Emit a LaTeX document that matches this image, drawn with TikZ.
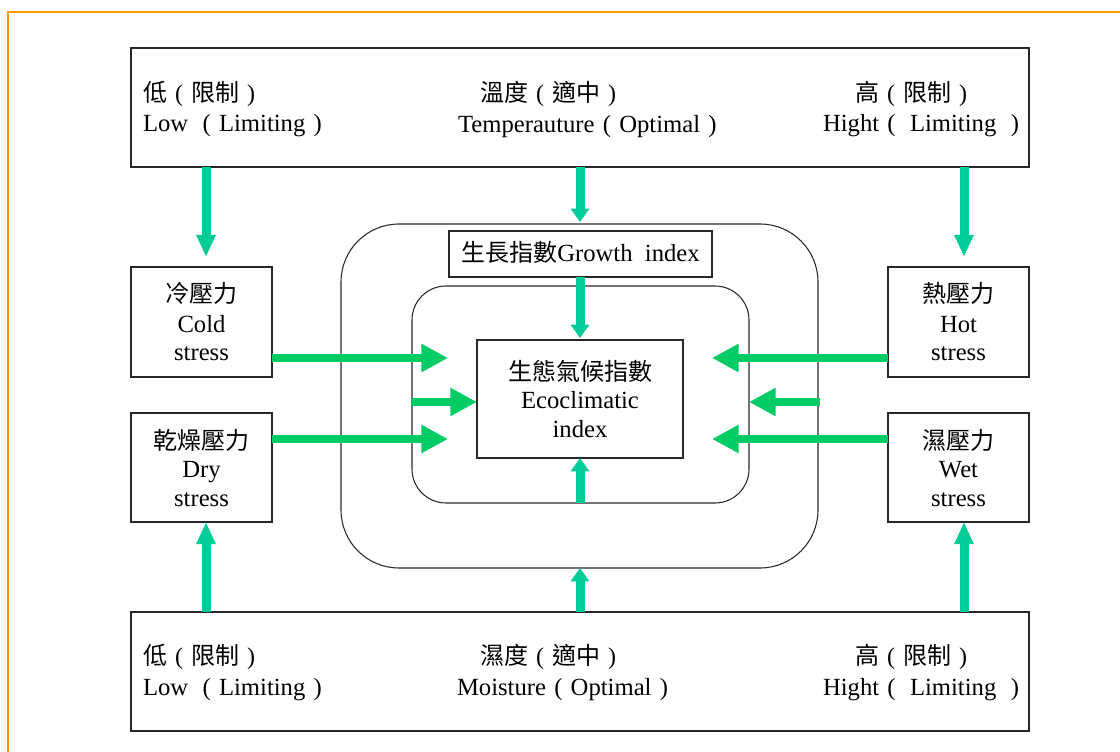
\documentclass[tikz,border=0pt]{standalone}
\usepackage{fontspec}
\setmainfont{Liberation Serif}
\newfontfamily\cjk{Noto Sans CJK TC}
\usetikzlibrary{arrows.meta}
\definecolor{teal2}{RGB}{0,204,153}
\definecolor{green2}{RGB}{0,204,102}
\definecolor{frameorange}{RGB}{255,153,0}
\definecolor{boxline}{RGB}{40,40,40}
\newcommand{\lpar}{\makebox[1em][c]{\rmfamily （}}
\newcommand{\rpar}{\makebox[1em][c]{\rmfamily ）}}
\newcommand{\slp}{\makebox[1em][c]{(}}
\newcommand{\srp}{\makebox[1em][c]{)}}
\newcommand{\cjlp}{\makebox[1em][c]{\rmfamily (}}
\newcommand{\cjrp}{\makebox[1em][c]{\rmfamily )}}
\begin{document}
\begin{tikzpicture}[x=0.75pt,y=-0.75pt,
  bx/.style={draw=boxline, line width=0.8pt, rectangle, inner sep=0pt, outer sep=0pt},
  rbx/.style={bx, rounded corners=#1},
  txt/.style={inner sep=0pt, outer sep=0pt, font=\fontsize{18.5pt}{20pt}\selectfont},
  cj/.style={inner sep=0pt, outer sep=0pt, font=\fontsize{18pt}{20pt}\selectfont\cjk},
  varr/.style={draw=teal2, line width=6.75pt, -{Triangle[width=13.5pt,length=16.5pt]}},
  vsm/.style={draw=teal2, line width=6.75pt, -{Triangle[width=13.5pt,length=10pt]}},
  harr/.style={draw=green2, line width=6.2pt, -{Triangle[width=20pt,length=20pt]}},
]
\useasboundingbox (0,0) rectangle (1120,752);
\clip (0,0) rectangle (1120,752);
\draw[frameorange, line width=1.5pt] (8,12) rectangle (1140,780);

% boxes
\node[bx, minimum width=673.5pt, minimum height=89.25pt] (top) at (580,107.5) {};
\node[bx, minimum width=673.5pt, minimum height=89.25pt] (bot) at (580,671.5) {};
\node[bx, minimum width=105.75pt, minimum height=82.5pt] (cold) at (201.5,322) {};
\node[bx, minimum width=105.75pt, minimum height=81.75pt] (dry) at (201.5,467.5) {};
\node[bx, minimum width=105.75pt, minimum height=82.5pt] (hot) at (958.5,322) {};
\node[bx, minimum width=105.75pt, minimum height=81.75pt] (wet) at (958.5,467.5) {};
\node[rbx=43.5pt, minimum width=357.75pt, minimum height=258pt] (outer) at (579.5,396) {};
\node[bx, minimum width=197.25pt, minimum height=34.5pt] (growth) at (580.5,254) {};
\node[rbx=25.5pt, minimum width=252.75pt, minimum height=162.75pt] (inner) at (580.5,394.5) {};
\node[bx, minimum width=154.5pt, minimum height=88.5pt] (eco) at (580,399) {};

% top box texts
\node[cj, anchor=west] (tl1) at (143,93.5) {低\cjlp 限制\cjrp};
\node[txt, anchor=base west] (tl2) at (143,132) {Low \slp Limiting\srp};
\node[cj, anchor=west] (tc1) at (480,93.5) {溫度\cjlp 適中\cjrp};
\node[txt, anchor=base west] (tc2) at (458,133) {Temperauture\slp Optimal\srp};
\node[cj, anchor=west] (tr1) at (855,93.5) {高\cjlp 限制\cjrp};
\node[txt, anchor=base west] (tr2) at (823,132) {Hight\slp\ Limiting\ \srp};

% bottom box texts
\node[cj, anchor=west] (bl1) at (143,657) {低\cjlp 限制\cjrp};
\node[txt, anchor=base west] (bl2) at (143,695) {Low \slp Limiting\srp};
\node[cj, anchor=west] (bc1) at (480,657) {濕度\cjlp 適中\cjrp};
\node[txt, anchor=base west] (bc2) at (457,695) {Moisture\slp Optimal\srp};
\node[cj, anchor=west] (br1) at (855,657) {高\cjlp 限制\cjrp};
\node[txt, anchor=base west] (br2) at (823,695) {Hight\slp\ Limiting\ \srp};

% stress boxes texts
\node[cj] (c1) at (201.5,293) {冷壓力};
\node[txt, anchor=base] (c2) at (201.5,332) {Cold};
\node[txt, anchor=base] (c3) at (201.5,360) {stress};
\node[cj] (d1) at (201.5,440) {乾燥壓力};
\node[txt, anchor=base] (d2) at (201.5,477) {Dry};
\node[txt, anchor=base] (d3) at (201.5,506) {stress};
\node[cj] (h1) at (958.5,293) {熱壓力};
\node[txt, anchor=base] (h2) at (958.5,332) {Hot};
\node[txt, anchor=base] (h3) at (958.5,360) {stress};
\node[cj] (w1) at (958.5,440) {濕壓力};
\node[txt, anchor=base] (w2) at (958.5,477) {Wet};
\node[txt, anchor=base] (w3) at (958.5,506) {stress};

% center texts
\node[txt, anchor=base] (g1) at (580.5,262) {{\fontsize{18pt}{20pt}\cjk 生長指數}Growth\ \ index};
\node[cj] (e1) at (580,371) {生態氣候指數};
\node[txt, anchor=base] (e2) at (580,408) {Ecoclimatic};
\node[txt, anchor=base] (e3) at (580,437) {index};

% helper coordinates
\coordinate (xL) at (206,0);
\coordinate (xM) at (580,0);
\coordinate (xR) at (964,0);
\coordinate (yA) at (0,358);
\coordinate (yB) at (0,402);
\coordinate (yC) at (0,439);

% vertical arrows
\draw[varr] (top.south -| xL) -- ([yshift=7.5pt]cold.north -| xL);
\draw[varr] (top.south -| xR) -- ([yshift=7.5pt]hot.north -| xR);
\draw[vsm] (top.south -| xM) -- ([yshift=1.5pt]outer.north -| xM);
\draw[vsm] (growth.south -| xM) -- ([yshift=1.5pt]eco.north -| xM);
\draw[vsm] (inner.south -| xM) -- (eco.south -| xM);
\draw[vsm] (bot.north -| xM) -- (outer.south -| xM);
\draw[varr] (bot.north -| xL) -- (dry.south -| xL);
\draw[varr] (bot.north -| xR) -- (wet.south -| xR);

% horizontal arrows
\draw[harr] (cold.east |- yA) -- ([xshift=-21.75pt]eco.west |- yA);
\draw[harr] (dry.east |- yC) -- ([xshift=-21.75pt]eco.west |- yC);
\draw[harr] (inner.west |- yB) -- (eco.west |- yB);
\draw[harr] (hot.west |- yA) -- ([xshift=21.75pt]eco.east |- yA);
\draw[harr] (wet.west |- yC) -- ([xshift=21.75pt]eco.east |- yC);
\draw[harr] ([xshift=1.5pt]outer.east |- yB) -- (inner.east |- yB);
\end{tikzpicture}
\end{document}
